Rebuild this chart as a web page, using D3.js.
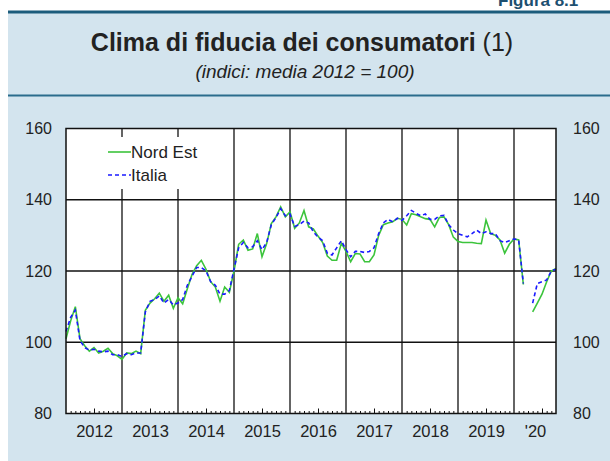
<!DOCTYPE html>
<html>
<head>
<meta charset="utf-8">
<script src="https://cdn.jsdelivr.net/npm/d3@7"></script>
<style>
  html, body { margin: 0; padding: 0; background: #fff; }
  svg { display: block; font-family: "Liberation Sans", Arial, sans-serif; }
</style>
</head>
<body>
<div id="chart"></div>
<script>
// monthly data, Jan 2012 .. Oct 2020 (April 2020 missing)
var yearLabels = ["2012", "2013", "2014", "2015", "2016", "2017", "2018", "2019", "'20"];
var yTicks = [80, 100, 120, 140, 160];

var nordEst = [
  101, 106, 110, 101, 99, 97.5, 98.5, 97, 97.5, 98.3, 96.8, 96.2,
  95.2, 97, 96.8, 97.5, 96.8, 109, 111, 112.2, 113.8, 111.5, 113.2, 109.5,
  112.5, 110.8, 115, 119, 121.5, 123, 120.5, 117, 115.5, 111.5, 115.5, 114,
  120, 127.5, 128.7, 125.8, 126.2, 130.5, 124, 127.7, 133.3, 135.2, 138, 135.2,
  136.6, 132, 133.5, 137, 132.4, 131.8, 129.8, 128, 124.2, 123, 123, 127.8,
  125.5, 122.6, 124.9, 124.8, 122.6, 122.6, 124.5, 130, 133, 133.5, 133.8, 134.8,
  134.5, 132.9, 136.1, 135.8, 135.2, 134.7, 134.5, 132.4, 135, 135.2, 133, 129.5,
  128.3, 128, 128, 128, 127.8, 127.7, 134.3, 130.5, 130, 128.7, 125, 127.5,
  129, 128.7, 116.2, null, 108.5, 111, 113.5, 117, 120, 120.7
];

var italia = [
  103, 107, 109, 100.5, 98.5, 97.8, 98, 97.5, 97.3, 97.5, 96.5, 96.5,
  96, 96.8, 96.5, 97, 97, 108.5, 111.5, 112, 113, 111, 112, 110.5,
  111, 112, 116, 118.5, 121, 121, 120, 117, 116, 113.5, 113.5, 114.5,
  120.5, 126.5, 128, 126.5, 126.8, 128.5, 126, 128, 133, 135, 137.5, 135.5,
  136, 132.5, 133, 134, 133.5, 131, 129.5, 128.5, 125, 124.5, 126.5, 128.5,
  126, 124, 125.5, 125.5, 125.2, 125.5, 126.5, 130.5, 133.5, 134.5, 133.8, 134.8,
  134.2, 135.5, 137, 136.2, 135.5, 136, 134.5, 134.5, 135.5, 135.6, 133, 131.5,
  130.5, 130, 129.6, 130.5, 131.5, 130.5, 131, 130.5, 130.5, 128.5, 128, 128.5,
  129, 128.7, 116.5, null, 111, 116.5, 117, 117.5, 120, 120.5
];

var svgWidth = 610, svgHeight = 461;
var plot = { left: 66, right: 556, top: 128.5, bottom: 413.5 };

var svg = d3.select("#chart").append("svg")
    .attr("width", svgWidth)
    .attr("height", svgHeight);

// panel background and header lines
svg.append("rect")
    .attr("x", 8).attr("y", 12)
    .attr("width", svgWidth - 8).attr("height", svgHeight - 12)
    .attr("fill", "#d3e4ee");

// figure number, cut off by the top edge as in the source page
svg.append("text")
    .attr("x", 498).attr("y", 6)
    .attr("font-size", 17).attr("font-weight", "bold")
    .attr("fill", "#1c4f70")
    .text("Figura 8.1");

svg.append("rect")
    .attr("x", 8).attr("y", 10.5)
    .attr("width", svgWidth - 8).attr("height", 3)
    .attr("fill", "#1c5c7c");

svg.append("rect")
    .attr("x", 8).attr("y", 94.5)
    .attr("width", svgWidth - 8).attr("height", 2)
    .attr("fill", "#2a6c8c");

var title = svg.append("text")
    .attr("x", 302).attr("y", 51)
    .attr("text-anchor", "middle")
    .attr("font-size", 25)
    .attr("fill", "#222");
title.append("tspan").attr("font-weight", "bold").text("Clima di fiducia dei consumatori");
title.append("tspan").text(" (1)");

svg.append("text")
    .attr("x", 305).attr("y", 78)
    .attr("text-anchor", "middle")
    .attr("font-size", 19)
    .attr("font-style", "italic")
    .attr("fill", "#222")
    .text("(indici: media 2012 = 100)");

// scales
var x = d3.scaleLinear().domain([0, 105]).range([plot.left, plot.right]);
var y = d3.scaleLinear().domain([80, 160]).range([plot.bottom, plot.top]);

// plot area
svg.append("rect")
    .attr("x", plot.left).attr("y", plot.top)
    .attr("width", plot.right - plot.left).attr("height", plot.bottom - plot.top)
    .attr("fill", "#fff");

var grid = svg.append("g").attr("stroke", "#111").attr("stroke-width", 1.3);

grid.selectAll(".hgrid")
    .data([100, 120, 140])
    .enter().append("line")
    .attr("x1", plot.left).attr("x2", plot.right)
    .attr("y1", d => y(d)).attr("y2", d => y(d));

grid.selectAll(".vgrid")
    .data(d3.range(12, 105, 12))
    .enter().append("line")
    .attr("x1", d => x(d)).attr("x2", d => x(d))
    .attr("y1", plot.top).attr("y2", plot.bottom);

// monthly minor ticks and mid-year ticks along the bottom
var monthTicks = d3.range(1, 105).filter(m => m % 12 != 0 && m % 12 != 6);
var midTicks = d3.range(6, 105, 12);

svg.append("g")
    .attr("transform", `translate(0, ${plot.bottom})`)
    .call(d3.axisBottom(x).tickValues(monthTicks).tickSize(-2.5).tickFormat(""))
    .call(g => g.select(".domain").remove())
    .selectAll("line").attr("stroke", "#111");

svg.append("g")
    .attr("transform", `translate(0, ${plot.bottom})`)
    .call(d3.axisBottom(x).tickValues(midTicks).tickSize(-5).tickFormat(""))
    .call(g => g.select(".domain").remove())
    .selectAll("line").attr("stroke", "#111");

// year labels centred on each year segment
var yearCenters = yearLabels.map((d, i) => (i * 12 + Math.min(i * 12 + 12, 105)) / 2);
svg.append("g")
    .attr("transform", `translate(0, ${plot.bottom})`)
    .call(d3.axisBottom(x).tickValues(yearCenters).tickSize(0).tickPadding(12)
        .tickFormat((d, i) => yearLabels[i]))
    .call(g => g.select(".domain").remove())
    .selectAll("text")
    .attr("font-size", 16.5).attr("fill", "#222")
    .attr("font-family", "Liberation Sans, Arial, sans-serif");

// y axes on both sides
svg.append("g")
    .attr("transform", `translate(${plot.left}, 0)`)
    .call(d3.axisLeft(y).tickValues(yTicks).tickSize(0).tickPadding(14))
    .call(g => g.select(".domain").remove())
    .selectAll("text")
    .attr("font-size", 16).attr("fill", "#222")
    .attr("font-family", "Liberation Sans, Arial, sans-serif");

svg.append("g")
    .attr("transform", `translate(${plot.right}, 0)`)
    .call(d3.axisRight(y).tickValues(yTicks).tickSize(0).tickPadding(17))
    .call(g => g.select(".domain").remove())
    .selectAll("text")
    .attr("font-size", 16).attr("fill", "#222")
    .attr("font-family", "Liberation Sans, Arial, sans-serif");

// legend box (covers the grid)
svg.append("rect")
    .attr("x", plot.left + 1).attr("y", 137)
    .attr("width", 140).attr("height", 52)
    .attr("fill", "#fff");

// series
var line = d3.line()
    .defined(d => d != null)
    .x((d, i) => x(i))
    .y(d => y(d));

svg.append("path")
    .datum(nordEst)
    .attr("fill", "none")
    .attr("stroke", "#3cc43c")
    .attr("stroke-width", 1.6)
    .attr("d", line);

svg.append("path")
    .datum(italia)
    .attr("fill", "none")
    .attr("stroke", "#1a1aff")
    .attr("stroke-width", 1.6)
    .attr("stroke-dasharray", "4,3")
    .attr("d", line);

// frame
svg.append("rect")
    .attr("x", plot.left).attr("y", plot.top)
    .attr("width", plot.right - plot.left).attr("height", plot.bottom - plot.top)
    .attr("fill", "none")
    .attr("stroke", "#111").attr("stroke-width", 1.5);

// legend entries
var legend = svg.append("g").attr("font-size", 17).attr("fill", "#222");
legend.append("line")
    .attr("x1", 108).attr("x2", 131).attr("y1", 152).attr("y2", 152)
    .attr("stroke", "#3cc43c").attr("stroke-width", 1.6);
legend.append("text").attr("x", 131).attr("y", 158).text("Nord Est");
legend.append("line")
    .attr("x1", 108).attr("x2", 131).attr("y1", 175).attr("y2", 175)
    .attr("stroke", "#1a1aff").attr("stroke-width", 1.6)
    .attr("stroke-dasharray", "4,3");
legend.append("text").attr("x", 131).attr("y", 181).text("Italia");
</script>
</body>
</html>
